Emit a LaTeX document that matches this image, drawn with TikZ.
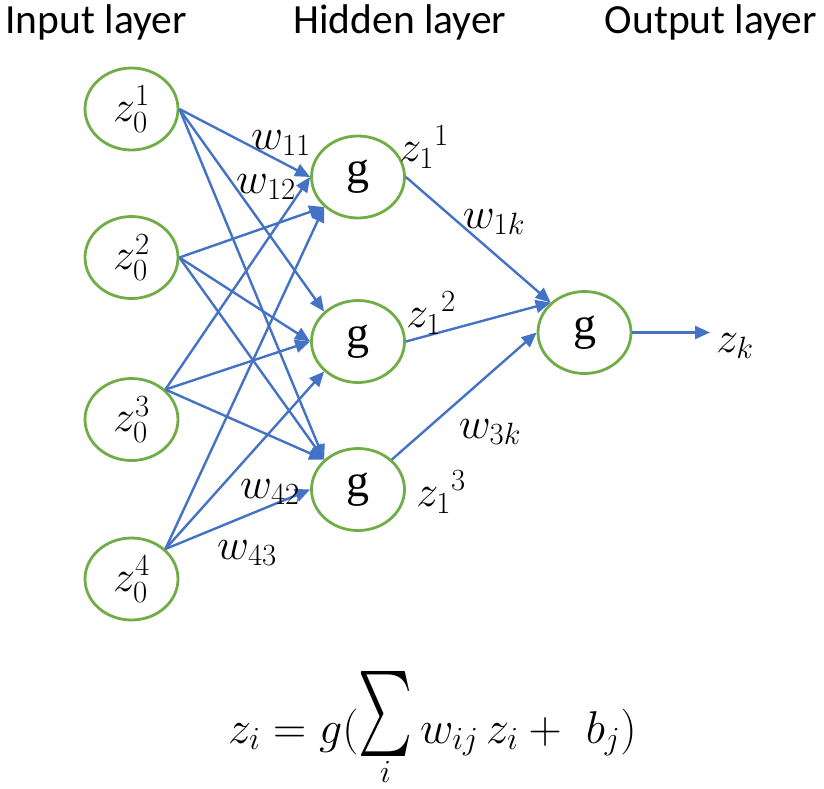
\RequirePackage{fix-cm}
\documentclass[tikz,border=0pt]{standalone}
\usepackage{exscale}
\usepackage{graphicx}
\usepackage{fontspec}
\newfontfamily\headfont{Carlito}
\newfontfamily\gfont{Liberation Serif}
\newcommand\bigsumbox{\raisebox{-14pt}{\resizebox{54pt}{85pt}{\raisebox{\depth}{$\sum$}}}}
\usetikzlibrary{arrows.meta,shapes.geometric}
\definecolor{nodegreen}{RGB}{112,173,71}
\definecolor{edgeblue}{RGB}{68,114,196}
\begin{document}
\begin{tikzpicture}[x=1pt,y=-1pt,
  neuron/.style={ellipse,draw=nodegreen,line width=2.8pt,minimum width=93pt,minimum height=82pt,inner sep=0pt,font=\fontsize{44}{50}\selectfont},
  gnode/.style={neuron,font=\gfont\fontsize{46}{52}\selectfont},
  conn/.style={draw=edgeblue,line width=2.4pt,-{Triangle[length=15pt,width=13pt]}},
  head/.style={font=\headfont\fontsize{41.5}{48}\selectfont,anchor=base},
  lab/.style={font=\fontsize{44}{50}\selectfont,inner sep=0pt}
]
\useasboundingbox (0,0) rectangle (824,788);
% headings
\node[head] (h1) at (96,33) {Input layer};
\node[head] (h2) at (400,33) {Hidden layer};
\node[head] (h3) at (711,33) {Output layer};
% input layer
\node[neuron] (in1) at (131.5,109) {$z_0^1$};
\node[neuron] (in2) at (131.5,257.5) {$z_0^2$};
\node[neuron] (in3) at (131.5,419.5) {$z_0^3$};
\node[neuron] (in4) at (131.5,579) {$z_0^4$};
% hidden layer
\node[gnode] (g1) at (358,177) {g};
\node[gnode] (g2) at (358,341.5) {g};
\node[gnode] (g3) at (358,489.5) {g};
% output
\node[gnode] (out) at (584.5,332.5) {g};
\coordinate (zend) at (710,332.5);
\node[lab] (zk) at (735,346) {$z_k$};
% connections input -> hidden
\draw[conn] (in1.east) -- (g1.west);
\draw[conn] (in1.east) -- (g2.north west);
\draw[conn] (in1.east) -- (g3.north west);
\draw[conn] (in2.east) -- (g1.south west);
\draw[conn] (in2.east) -- (g2.west);
\draw[conn] (in2.east) -- (g3.north west);
\draw[conn] (in3.north east) -- (g1.west);
\draw[conn] (in3.north east) -- (g2.west);
\draw[conn] (in3.north east) -- (g3.north west);
\draw[conn] (in4.north east) -- (g1.south west);
\draw[conn] (in4.north east) -- (g2.south west);
\draw[conn] (in4.north east) -- (g3.west);
% hidden -> output
\draw[conn] (g1.east) -- (out.north west);
\draw[conn] (g2.east) -- (out.north west);
\draw[conn] (g3.north east) -- (out.west);
\draw[conn] (out.east) -- (zend);
% labels
\node[lab] (lw11) at (281,143) {$w_{11}$};
\node[lab] (lw12) at (266,187) {$w_{12}$};
\node[lab] (lz11) at (424,147) {$z_1{}^1$};
\node[lab] (lw1k) at (494,222) {$w_{1k}$};
\node[lab] (lz12) at (431,313) {$z_1{}^2$};
\node[lab] (lw3k) at (490,432) {$w_{3k}$};
\node[lab] (lz13) at (441,492) {$z_1{}^3$};
\node[lab] (lw42) at (270,492) {$w_{42}$};
\node[lab] (lw43) at (247,553) {$w_{43}$};
% equation
\node[font=\fontsize{46}{54}\selectfont,anchor=base west,inner sep=0pt] (eq) at (228,743)
  {$\displaystyle z_i = g(\mathop{\bigsumbox}\limits_i w_{ij}\, z_i +\ b_j)$};
\end{tikzpicture}
\end{document}
